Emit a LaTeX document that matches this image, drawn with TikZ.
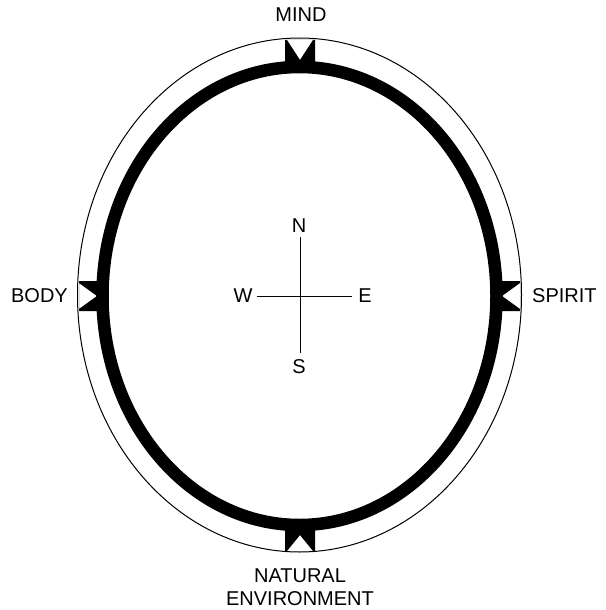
\documentclass[tikz,border=0pt]{standalone}
\usepackage{fontspec}
\setmainfont{Liberation Sans}
\begin{document}
\begin{tikzpicture}[x=1pt,y=-1pt,
  lbl/.style={inner sep=0pt,font=\fontsize{20}{23}\selectfont,align=center},
  ring/.style={line width=12.5pt},
  marker/.style={fill=black,even odd rule}]
\useasboundingbox (0,0) rectangle (605,610);
% outer thin ellipse
\draw[line width=1pt] (299.5,295) ellipse [x radius=222, y radius=257];
% thick ring
\draw[ring] (299.5,296) ellipse [x radius=197, y radius=229];
% markers
\fill[marker] (285,40) rectangle (315,70) (287,40) -- (313,40) -- (300,60) -- cycle;
\fill[marker] (285,522) rectangle (315,551) (287,551) -- (313,551) -- (300,535) -- cycle;
\fill[marker] (79,281) rectangle (102,311) (79,283) -- (79,309) -- (97,296) -- cycle;
\fill[marker] (497,281) rectangle (520,311) (520,283) -- (520,309) -- (502,296) -- cycle;
% labels
\node[lbl] (mind) at (301,15) {MIND};
\node[lbl] (nat) at (300,587) {NATURAL\\ENVIRONMENT};
\node[lbl,anchor=east] (body) at (68,296) {BODY};
\node[lbl,anchor=west] (spirit) at (532,296) {SPIRIT};
% compass
\node[lbl] (N) at (299,226) {N};
\node[lbl] (S) at (299,367) {S};
\node[lbl] (W) at (243,296) {W};
\node[lbl] (E) at (365,296) {E};
\coordinate (nt) at (300,237);
\coordinate (sb) at (300,353);
\coordinate (wl) at (257,296);
\coordinate (er) at (352,296);
\draw[line width=1pt] (nt) -- (sb);
\draw[line width=1pt] (wl) -- (er);
\end{tikzpicture}
\end{document}
